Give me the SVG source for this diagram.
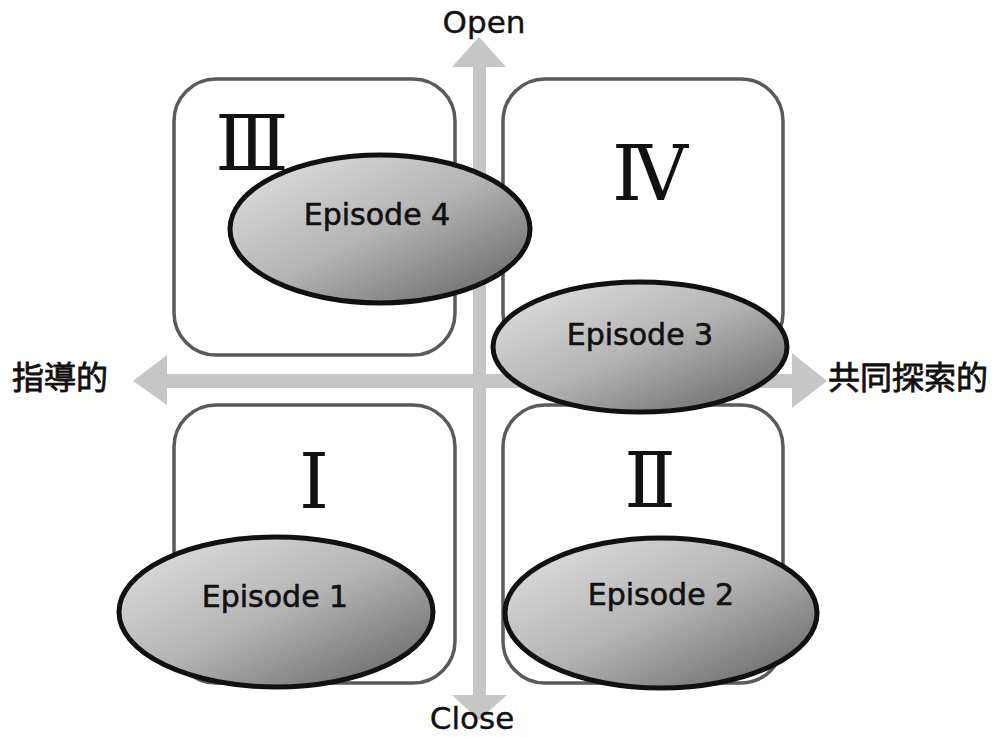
<svg xmlns="http://www.w3.org/2000/svg" width="999" height="737" viewBox="0 0 999 737">
<defs>
<linearGradient id="eg" x1="0" y1="0" x2="1" y2="1">
<stop offset="0" stop-color="#e4e4e4"/>
<stop offset="0.5" stop-color="#b4b4b4"/>
<stop offset="1" stop-color="#5e5e5e"/>
</linearGradient>
<style>
.box{fill:#fff;stroke:#5a5a5a;stroke-width:3.5}
.ell{fill:url(#eg);stroke:#111;stroke-width:5}
.arr{fill:#c6c6c6}
.ep{font-family:"DejaVu Sans","Verdana",sans-serif;font-size:30px;fill:#111;stroke:#111;stroke-width:0.6;text-anchor:middle}
.ax{font-family:"DejaVu Sans",sans-serif;font-size:31px;fill:#111;stroke:#111;stroke-width:0.4;text-anchor:middle}
.jp{font-family:"Noto Sans CJK JP","Noto Sans CJK SC",sans-serif;font-size:32px;fill:#111;stroke:#111;stroke-width:0.8}
.rn{font-family:"DejaVu Serif","Liberation Serif","Noto Sans CJK JP",serif;font-size:76px;fill:#111;text-anchor:middle}
</style>
</defs>
<rect width="999" height="737" fill="#fff"/>
<g id="connectors">
<polygon class="arr" points="479,37 506,67 486,67 486,695 507,695 479,720 452,695 473,695 473,67 452,67"/>
<polygon class="arr" points="133,381 167,355 167,374 792,374 792,353 827,381 792,408 792,388 167,388 167,405"/>
</g>
<g id="box-III"><rect class="box" x="174" y="79" width="281" height="276" rx="42"/><text class="rn" x="252" y="170">Ⅲ</text></g>
<g id="box-IV"><rect class="box" x="503" y="79" width="280" height="276" rx="42"/><text class="rn" x="650" y="200">Ⅳ</text></g>
<g id="box-I"><rect class="box" x="174" y="405" width="281" height="278" rx="42"/><text class="rn" x="314" y="508">Ⅰ</text></g>
<g id="box-II"><rect class="box" x="503" y="405" width="280" height="278" rx="42"/><text class="rn" x="650" y="507">Ⅱ</text></g>
<g id="episode-4"><ellipse class="ell" cx="380" cy="229" rx="150" ry="74"/><text class="ep" x="377" y="225">Episode 4</text></g>
<g id="episode-3"><ellipse class="ell" cx="640" cy="347" rx="147" ry="65"/><text class="ep" x="640" y="345">Episode 3</text></g>
<g id="episode-1"><ellipse class="ell" cx="276" cy="612" rx="157" ry="75"/><text class="ep" x="275" y="607">Episode 1</text></g>
<g id="episode-2"><ellipse class="ell" cx="661" cy="613" rx="156" ry="75"/><text class="ep" x="661" y="605">Episode 2</text></g>
<g id="labels">
<text class="ax" x="484" y="33">Open</text>
<text class="ax" x="472" y="729">Close</text>
<text class="jp" x="12" y="389">指導的</text>
<text class="jp" x="828" y="389">共同探索的</text>
</g>
</svg>
